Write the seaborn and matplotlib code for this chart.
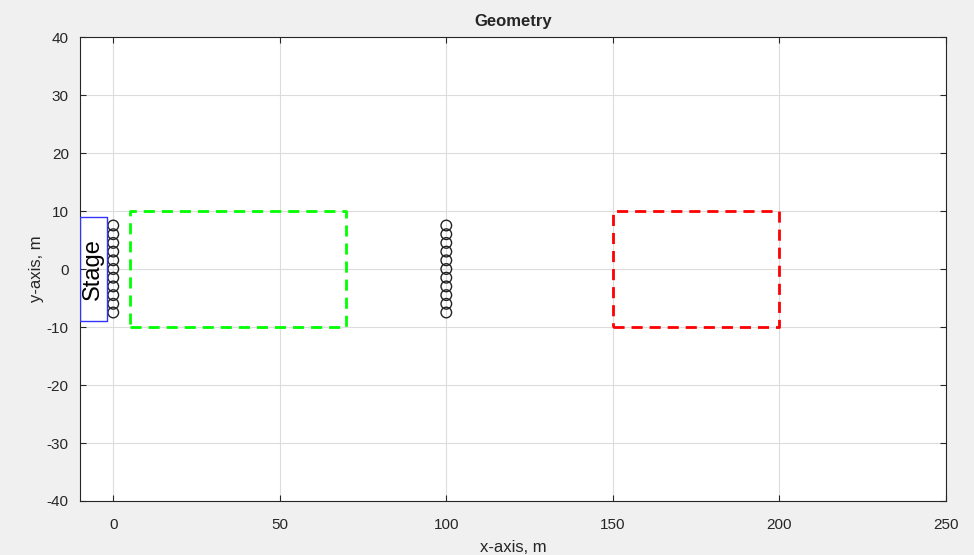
import numpy as np
import pandas as pd
import matplotlib
matplotlib.use("Agg")
import matplotlib.pyplot as plt
import seaborn as sns

# Data
array1_x = [0] * 11
array1_y = [-7.5, -6, -4.5, -3, -1.5, 0, 1.5, 3, 4.5, 6, 7.5]
array2_x = [100] * 11
array2_y = [-7.5, -6, -4.5, -3, -1.5, 0, 1.5, 3, 4.5, 6, 7.5]
stage_x = [-10, -2, -2, -10, -10]
stage_y = [-9, -9, 9, 9, -9]
green_x = [5, 70, 70, 5, 5]
green_y = [-10, -10, 10, 10, -10]
red_x = [150, 200, 200, 150, 150]
red_y = [-10, -10, 10, 10, -10]
x_ticks = [0, 50, 100, 150, 200, 250]
y_ticks = [-40, -30, -20, -10, 0, 10, 20, 30, 40]

sns.set_theme(style="whitegrid")
plt.rcParams['font.family'] = ['Liberation Sans', 'DejaVu Sans']
plt.rcParams['axes.unicode_minus'] = False

fig = plt.figure(figsize=(9.74, 5.55), dpi=100, facecolor="#f0f0f0")
ax = fig.add_axes([0.0821, 0.0973, 0.889, 0.836])
ax.set_facecolor("white")

df = pd.DataFrame({"x": array1_x + array2_x, "y": array1_y + array2_y})
sns.scatterplot(data=df, x="x", y="y", ax=ax, marker="o", s=58,
                facecolor="none", edgecolor="#222222", linewidth=1.0, zorder=3)

ax.plot(stage_x, stage_y, color="#3333ff", lw=1.0, zorder=3)
ax.text(-6, 0, "Stage", rotation=90, ha="center", va="center", fontsize=17, color="black")
ax.plot(green_x, green_y, color="#00ff00", lw=2, ls=(0, (4, 2.5)), zorder=3)
ax.plot(red_x, red_y, color="#ff0000", lw=2, ls=(0, (4, 2.5)), zorder=3)

ax.set_xlim(-10, 250)
ax.set_ylim(-40, 40)
ax.set_xticks(x_ticks)
ax.set_yticks(y_ticks)
ax.grid(True, color="#dcdcdc", lw=0.8)
for sp in ax.spines.values():
    sp.set_color("#262626")
    sp.set_linewidth(0.8)
ax.tick_params(direction="in", length=4, width=0.8, colors="#262626",
               labelsize=11, top=True, right=True, bottom=True, left=True,
               labeltop=False, labelright=False)
ax.tick_params(axis="x", pad=12)
ax.tick_params(axis="y", pad=8)
ax.set_xlabel("x-axis, m", fontsize=12, color="#262626", labelpad=6)
ax.set_ylabel("y-axis, m", fontsize=12, color="#262626", labelpad=2)
ax.set_title("Geometry", fontsize=12, fontweight="bold", pad=8)

fig.savefig("out.png", dpi=100, facecolor=fig.get_facecolor())
